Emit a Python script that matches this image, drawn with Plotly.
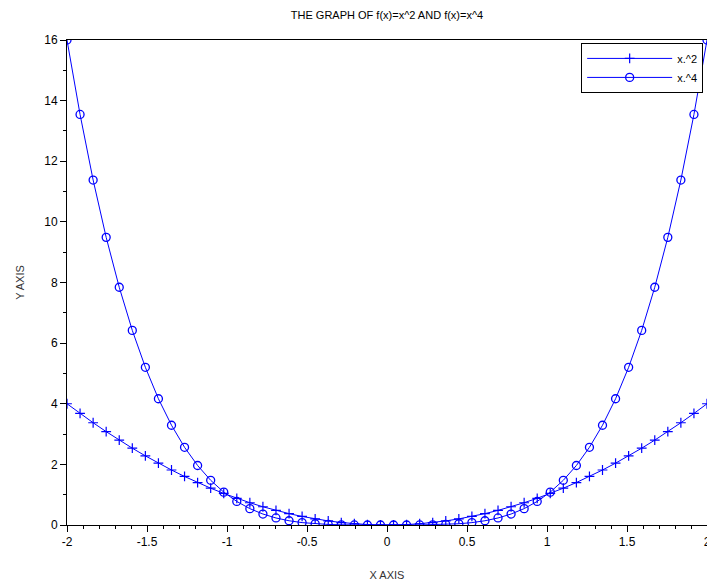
import plotly.graph_objects as go

x = [-2.0, -1.9184, -1.8367, -1.7551, -1.6735, -1.5918, -1.5102, -1.4286, -1.3469, -1.2653,
     -1.1837, -1.102, -1.0204, -0.9388, -0.8571, -0.7755, -0.6939, -0.6122, -0.5306, -0.449,
     -0.3673, -0.2857, -0.2041, -0.1224, -0.0408, 0.0408, 0.1224, 0.2041, 0.2857, 0.3673,
     0.449, 0.5306, 0.6122, 0.6939, 0.7755, 0.8571, 0.9388, 1.0204, 1.102, 1.1837,
     1.2653, 1.3469, 1.4286, 1.5102, 1.5918, 1.6735, 1.7551, 1.8367, 1.9184, 2.0]

y_sq = [4.0, 3.6803, 3.3735, 3.0804, 2.8006, 2.5338, 2.2807, 2.0408, 1.8141, 1.601,
        1.4011, 1.2145, 1.0412, 0.8813, 0.7347, 0.6014, 0.4815, 0.3748, 0.2815, 0.2016,
        0.1349, 0.0816, 0.0417, 0.015, 0.0017, 0.0017, 0.015, 0.0417, 0.0816, 0.1349,
        0.2016, 0.2815, 0.3748, 0.4815, 0.6014, 0.7347, 0.8813, 1.0412, 1.2145, 1.4011,
        1.601, 1.8141, 2.0408, 2.2807, 2.5338, 2.8006, 3.0804, 3.3735, 3.6803, 4.0]

y_qu = [16.0, 13.545, 11.38, 9.489, 7.843, 6.42, 5.202, 4.165, 3.291, 2.563,
        1.963, 1.475, 1.084, 0.777, 0.54, 0.362, 0.232, 0.14, 0.079, 0.041,
        0.018, 0.007, 0.002, 0.0002, 0.0, 0.0, 0.0002, 0.002, 0.007, 0.018,
        0.041, 0.079, 0.14, 0.232, 0.362, 0.54, 0.777, 1.084, 1.475, 1.963,
        2.563, 3.291, 4.165, 5.202, 6.42, 7.843, 9.489, 11.38, 13.545, 16.0]

x_ticks = [-2, -1.5, -1, -0.5, 0, 0.5, 1, 1.5, 2]
x_tick_labels = ["-2", "-1.5", "-1", "-0.5", "0", "0.5", "1", "1.5", "2"]
y_ticks = [0, 2, 4, 6, 8, 10, 12, 14, 16]

BLUE = "#0000ff"
FONT = "Liberation Sans, Arial, sans-serif"

fig = go.Figure()
fig.add_trace(go.Scatter(
    x=x, y=y_sq, name="x.^2", mode="lines+markers",
    line=dict(color=BLUE, width=1),
    marker=dict(symbol="cross-thin", size=7, line=dict(color=BLUE, width=1.2), color=BLUE),
))
fig.add_trace(go.Scatter(
    x=x, y=y_qu, name="x.^4", mode="lines+markers",
    line=dict(color=BLUE, width=1),
    marker=dict(symbol="circle-open", size=8, line=dict(color=BLUE, width=1.3), color=BLUE),
))

axis_common = dict(
    showgrid=False, zeroline=False, showline=True, linecolor="black", linewidth=1,
    mirror=True, ticks="outside", ticklen=6, tickwidth=1, tickcolor="black",
    tickfont=dict(family=FONT, size=12, color="black"),
    ticklabeloverflow="allow", automargin=False,
)

fig.update_layout(
    width=707, height=583,
    margin=dict(l=67, r=0, t=40, b=58),
    paper_bgcolor="white", plot_bgcolor="white",
    title=dict(text="THE GRAPH OF f(x)=x^2 AND f(x)=x^4", x=0.5, xref="paper",
               y=1 - 15 / 583, yanchor="middle", xanchor="center",
               font=dict(family=FONT, size=11, color="black")),
    xaxis=dict(range=[-2, 2], tickvals=x_ticks, ticktext=x_tick_labels,
               title=dict(text="X AXIS", font=dict(family=FONT, size=11, color="#333"), standoff=22),
               minor=dict(ticks="outside", ticklen=3, dtick=0.1, tick0=0, tickcolor="black", showgrid=False),
               **axis_common),
    yaxis=dict(range=[0, 16], tickvals=y_ticks,
               title=dict(text="Y AXIS", font=dict(family=FONT, size=11, color="#333"), standoff=17),
               minor=dict(ticks="outside", ticklen=3, dtick=1, tick0=0, tickcolor="black", showgrid=False),
               **axis_common),
    legend=dict(x=0.994, y=0.994, xanchor="right", yanchor="top",
                bgcolor="white", bordercolor="black", borderwidth=1,
                font=dict(family=FONT, size=11, color="black"),
                itemwidth=85, tracegroupgap=0),
    showlegend=True,
)

fig.write_html("out.html")
